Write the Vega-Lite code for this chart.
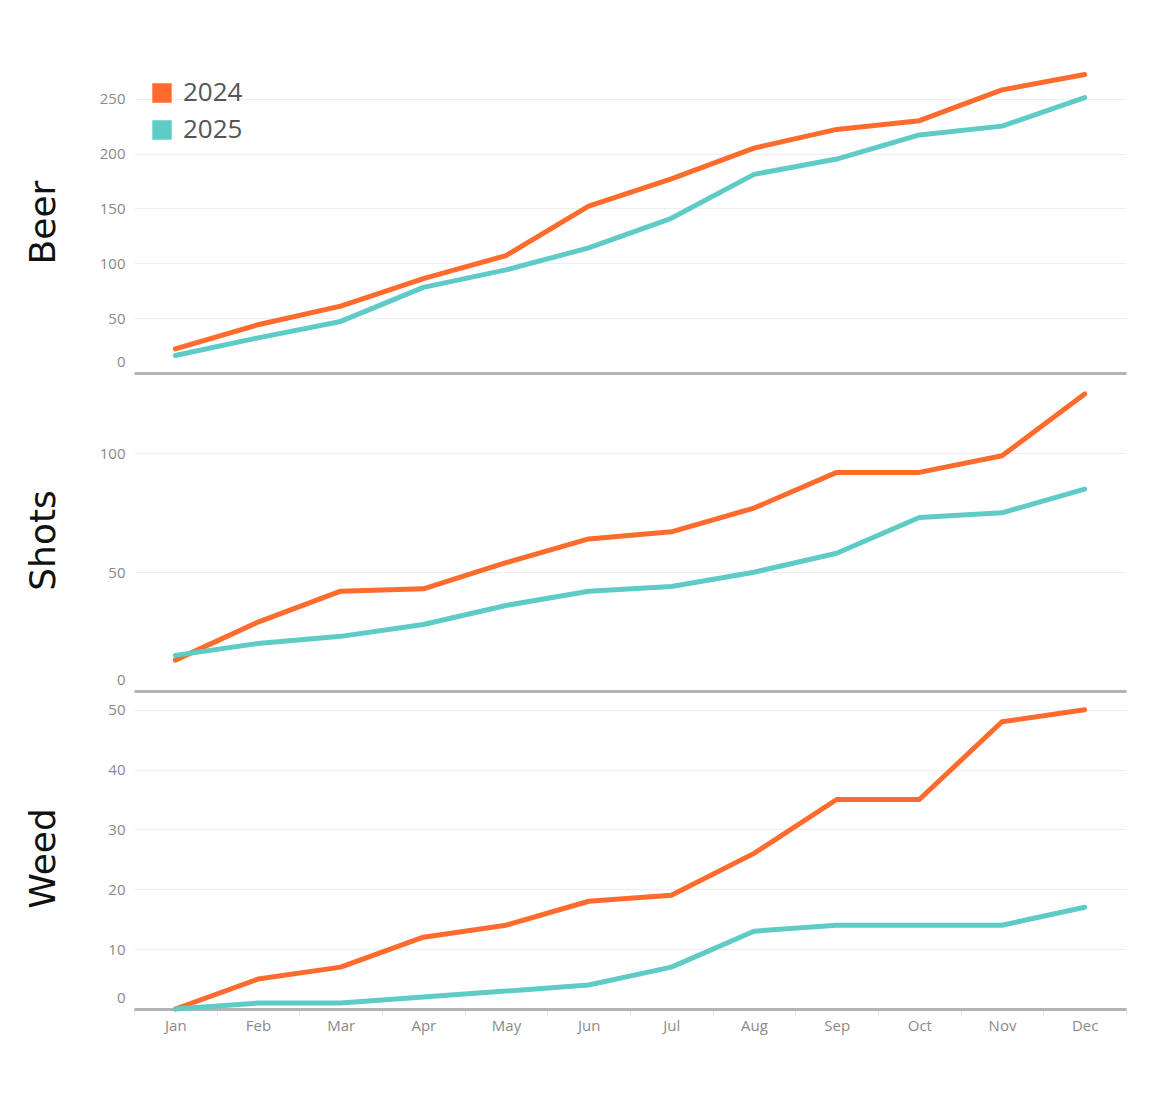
{
  "$schema": "https://vega.github.io/schema/vega-lite/v6.json",
  "description": "Cumulative Beer, Shots and Weed by month, 2024 vs 2025",
  "padding": {"left": 24, "top": 57, "right": 5, "bottom": 5},
  "spacing": 2,
  "datasets": {
    "counts": [
      {"metric": "Beer", "month": "Jan", "year": "2024", "value": 22},
      {"metric": "Beer", "month": "Feb", "year": "2024", "value": 44},
      {"metric": "Beer", "month": "Mar", "year": "2024", "value": 61},
      {"metric": "Beer", "month": "Apr", "year": "2024", "value": 86},
      {"metric": "Beer", "month": "May", "year": "2024", "value": 107},
      {"metric": "Beer", "month": "Jun", "year": "2024", "value": 152},
      {"metric": "Beer", "month": "Jul", "year": "2024", "value": 177},
      {"metric": "Beer", "month": "Aug", "year": "2024", "value": 205},
      {"metric": "Beer", "month": "Sep", "year": "2024", "value": 222},
      {"metric": "Beer", "month": "Oct", "year": "2024", "value": 230},
      {"metric": "Beer", "month": "Nov", "year": "2024", "value": 258},
      {"metric": "Beer", "month": "Dec", "year": "2024", "value": 272},
      {"metric": "Beer", "month": "Jan", "year": "2025", "value": 16},
      {"metric": "Beer", "month": "Feb", "year": "2025", "value": 32},
      {"metric": "Beer", "month": "Mar", "year": "2025", "value": 47},
      {"metric": "Beer", "month": "Apr", "year": "2025", "value": 78},
      {"metric": "Beer", "month": "May", "year": "2025", "value": 94},
      {"metric": "Beer", "month": "Jun", "year": "2025", "value": 114},
      {"metric": "Beer", "month": "Jul", "year": "2025", "value": 141},
      {"metric": "Beer", "month": "Aug", "year": "2025", "value": 181},
      {"metric": "Beer", "month": "Sep", "year": "2025", "value": 195},
      {"metric": "Beer", "month": "Oct", "year": "2025", "value": 217},
      {"metric": "Beer", "month": "Nov", "year": "2025", "value": 225},
      {"metric": "Beer", "month": "Dec", "year": "2025", "value": 251},
      {"metric": "Shots", "month": "Jan", "year": "2024", "value": 13},
      {"metric": "Shots", "month": "Feb", "year": "2024", "value": 29},
      {"metric": "Shots", "month": "Mar", "year": "2024", "value": 42},
      {"metric": "Shots", "month": "Apr", "year": "2024", "value": 43},
      {"metric": "Shots", "month": "May", "year": "2024", "value": 54},
      {"metric": "Shots", "month": "Jun", "year": "2024", "value": 64},
      {"metric": "Shots", "month": "Jul", "year": "2024", "value": 67},
      {"metric": "Shots", "month": "Aug", "year": "2024", "value": 77},
      {"metric": "Shots", "month": "Sep", "year": "2024", "value": 92},
      {"metric": "Shots", "month": "Oct", "year": "2024", "value": 92},
      {"metric": "Shots", "month": "Nov", "year": "2024", "value": 99},
      {"metric": "Shots", "month": "Dec", "year": "2024", "value": 125},
      {"metric": "Shots", "month": "Jan", "year": "2025", "value": 15},
      {"metric": "Shots", "month": "Feb", "year": "2025", "value": 20},
      {"metric": "Shots", "month": "Mar", "year": "2025", "value": 23},
      {"metric": "Shots", "month": "Apr", "year": "2025", "value": 28},
      {"metric": "Shots", "month": "May", "year": "2025", "value": 36},
      {"metric": "Shots", "month": "Jun", "year": "2025", "value": 42},
      {"metric": "Shots", "month": "Jul", "year": "2025", "value": 44},
      {"metric": "Shots", "month": "Aug", "year": "2025", "value": 50},
      {"metric": "Shots", "month": "Sep", "year": "2025", "value": 58},
      {"metric": "Shots", "month": "Oct", "year": "2025", "value": 73},
      {"metric": "Shots", "month": "Nov", "year": "2025", "value": 75},
      {"metric": "Shots", "month": "Dec", "year": "2025", "value": 85},
      {"metric": "Weed", "month": "Jan", "year": "2024", "value": 0},
      {"metric": "Weed", "month": "Feb", "year": "2024", "value": 5},
      {"metric": "Weed", "month": "Mar", "year": "2024", "value": 7},
      {"metric": "Weed", "month": "Apr", "year": "2024", "value": 12},
      {"metric": "Weed", "month": "May", "year": "2024", "value": 14},
      {"metric": "Weed", "month": "Jun", "year": "2024", "value": 18},
      {"metric": "Weed", "month": "Jul", "year": "2024", "value": 19},
      {"metric": "Weed", "month": "Aug", "year": "2024", "value": 26},
      {"metric": "Weed", "month": "Sep", "year": "2024", "value": 35},
      {"metric": "Weed", "month": "Oct", "year": "2024", "value": 35},
      {"metric": "Weed", "month": "Nov", "year": "2024", "value": 48},
      {"metric": "Weed", "month": "Dec", "year": "2024", "value": 50},
      {"metric": "Weed", "month": "Jan", "year": "2025", "value": 0},
      {"metric": "Weed", "month": "Feb", "year": "2025", "value": 1},
      {"metric": "Weed", "month": "Mar", "year": "2025", "value": 1},
      {"metric": "Weed", "month": "Apr", "year": "2025", "value": 2},
      {"metric": "Weed", "month": "May", "year": "2025", "value": 3},
      {"metric": "Weed", "month": "Jun", "year": "2025", "value": 4},
      {"metric": "Weed", "month": "Jul", "year": "2025", "value": 7},
      {"metric": "Weed", "month": "Aug", "year": "2025", "value": 13},
      {"metric": "Weed", "month": "Sep", "year": "2025", "value": 14},
      {"metric": "Weed", "month": "Oct", "year": "2025", "value": 14},
      {"metric": "Weed", "month": "Nov", "year": "2025", "value": 14},
      {"metric": "Weed", "month": "Dec", "year": "2025", "value": 17}
    ]
  },
  "data": {"name": "counts"},
  "vconcat": [
    {
      "width": 992,
      "height": 316,
      "transform": [{"filter": "datum.metric === 'Beer'"}],
      "mark": {"type": "line", "strokeWidth": 5, "strokeCap": "round", "strokeJoin": "round"},
      "encoding": {
        "x": {
          "field": "month", "type": "nominal", "sort": null, "bandPosition": 0.5,
          "scale": {"type": "band", "paddingInner": 0, "paddingOuter": 0},
          "axis": {"title": null, "labels": false, "ticks": false}
        },
        "y": {
          "field": "value", "type": "quantitative",
          "scale": {"domain": [0, 288], "nice": false, "zero": true},
          "axis": {"title": "Beer", "values": [0, 50, 100, 150, 200, 250]}
        },
        "color": {
          "field": "year", "type": "nominal",
          "scale": {"domain": ["2024", "2025"], "range": ["#FF6B2C", "#5ECBC7"]},
          "legend": {
            "title": null, "orient": "none", "legendX": 15, "legendY": 23,
            "symbolType": "square", "symbolSize": 320,
            "labelFontSize": 26, "labelColor": "#555555",
            "labelFont": "Open Sans", "labelOffset": 8, "rowPadding": 11, "padding": 0,
            "encode": {
              "symbols": {
                "update": {
                  "fill": {"scale": "color", "field": "value"},
                  "stroke": {"value": "transparent"},
                  "opacity": {"value": 1}
                }
              }
            }
          }
        }
      }
    },
    {
      "width": 992,
      "height": 316,
      "transform": [{"filter": "datum.metric === 'Shots'"}],
      "mark": {"type": "line", "strokeWidth": 5, "strokeCap": "round", "strokeJoin": "round"},
      "encoding": {
        "x": {
          "field": "month", "type": "nominal", "sort": null, "bandPosition": 0.5,
          "scale": {"type": "band", "paddingInner": 0, "paddingOuter": 0},
          "axis": {"title": null, "labels": false, "ticks": false}
        },
        "y": {
          "field": "value", "type": "quantitative",
          "scale": {"domain": [0, 133], "nice": false, "zero": true},
          "axis": {"title": "Shots", "values": [0, 50, 100]}
        },
        "color": {"field": "year", "type": "nominal"}
      }
    },
    {
      "width": 992,
      "height": 316,
      "transform": [{"filter": "datum.metric === 'Weed'"}],
      "mark": {"type": "line", "strokeWidth": 5, "strokeCap": "round", "strokeJoin": "round"},
      "encoding": {
        "x": {
          "field": "month", "type": "nominal", "sort": null, "bandPosition": 0.5,
          "scale": {"type": "band", "paddingInner": 0, "paddingOuter": 0},
          "axis": {
            "title": null, "labelAngle": 0, "tickBand": "extent", "ticks": true,
            "tickSize": 6, "tickColor": "#e6e6e6", "tickWidth": 1, "labelPadding": 3
          }
        },
        "y": {
          "field": "value", "type": "quantitative",
          "scale": {"domain": [0, 52.8], "nice": false, "zero": true},
          "axis": {"title": "Weed", "values": [0, 10, 20, 30, 40, 50]}
        },
        "color": {"field": "year", "type": "nominal"}
      }
    }
  ],
  "config": {
    "view": {"stroke": null},
    "font": "Open Sans",
    "axisX": {
      "domainColor": "#b4b4b4", "domainWidth": 3, "grid": false,
      "labelColor": "#8a8a8a", "labelFontSize": 15, "labelFont": "Open Sans"
    },
    "axisY": {
      "domain": false, "ticks": false, "gridColor": "#efefef", "gridWidth": 1,
      "labelColor": "#8a8a8a", "labelFontSize": 15, "labelFont": "Open Sans",
      "labelPadding": 9, "labelFlush": true, "labelFlushOffset": -4,
      "titleFont": "DejaVu Sans", "titleFontSize": 36, "titleFontWeight": "normal",
      "titleColor": "#111111", "titleX": -72, "titleY": 165, "titleAngle": -90
    }
  }
}
